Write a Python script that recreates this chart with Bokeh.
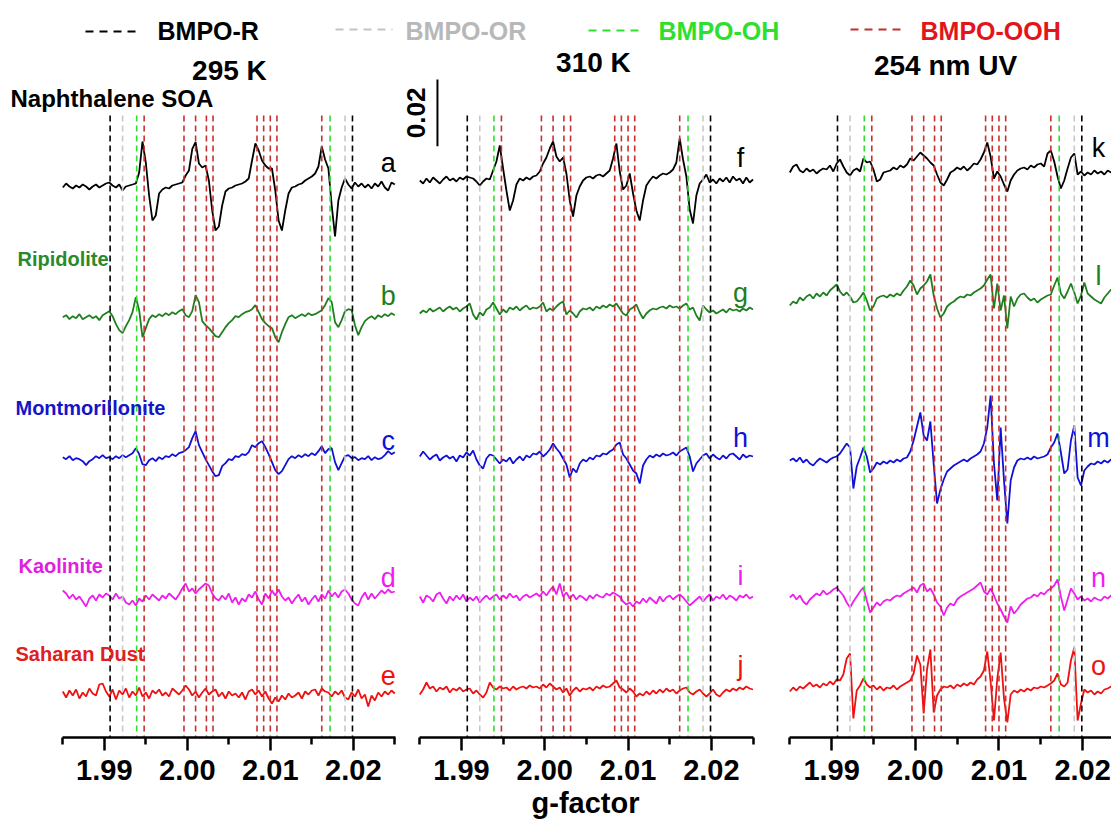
import numpy as np
from bokeh.plotting import figure
from bokeh.models import Range1d, FixedTicker, NumeralTickFormatter
from bokeh.layouts import column, row
from bokeh.embed import file_html
from bokeh.resources import INLINE
from bokeh.core.properties import value

FONT = "Liberation Sans"

# ------------------------------------------------------------------ data
G_MIN, G_MAX = 1.985, 2.025
G_STEP = 0.0004            # sampling step of the spectra (g units)
MAJOR_TICKS = [1.99, 2.00, 2.01, 2.02]
MINOR_TICKS = [1.985, 1.995, 2.005, 2.015, 2.025]

# reference g values of the BMPO adducts
BMPO_R = [1.9907, 2.0199]
BMPO_OR = [1.9922, 2.0190]
BMPO_OH = [1.9939, 2.0172]
BMPO_OOH = [1.9948, 1.9996, 2.0010, 2.0023, 2.0031,
            2.0084, 2.0092, 2.0100, 2.0108, 2.0162]

SAMPLES = ["Naphthalene SOA", "Ripidolite", "Montmorillonite", "Kaolinite", "Saharan Dust"]
CONDITIONS = ["295 K", "310 K", "254 nm UV"]
LETTERS = [["a", "b", "c", "d", "e"], ["f", "g", "h", "i", "j"], ["k", "l", "m", "n", "o"]]
SCALE_BAR = 0.02

# EPR spectra (first derivative), units of 1e-4
soa_295 = [-6, 6, -3, -9, 0, -6, 3, -3, -12, -3,
           3, -6, 0, 6, 9, 0, -6, 3, -15, -3,
           0, 3, 6, 39, 132, 69, -30, -105, -90, -24,
           -12, -6, -9, 0, 3, 6, 9, 30, 45, 110,
           130, 66, 54, 60, 15, -75, -135, -123, -60, -18,
           -9, -6, 0, 3, 6, 12, 21, 75, 126, 105,
           75, 60, 51, 51, -15, -105, -135, -75, -24, -6,
           -3, 3, 6, 15, 21, 27, 36, 57, 117, 78,
           51, -60, -153, -45, -6, 21, 3, -9, 9, -3,
           6, -6, 3, -9, 6, -3, 12, -6, -15, 9, 3]
rip_295 = [0, 6, -6, 3, -3, 9, -6, 0, 6, -3,
           3, -9, 6, 12, 18, 3, -21, -39, -48, -27,
           -9, 15, 60, 21, -60, -33, -6, 6, 0, 9,
           3, 12, 6, 15, 9, 18, 24, 6, 0, 18,
           66, 45, -12, -24, -33, -45, -57, -60, -45, -30,
           -18, -9, 3, 0, 9, 15, 18, 24, 36, 15,
           -6, -18, -27, -33, -60, -75, -45, -21, 0, 6,
           -3, 3, 9, 3, 12, 6, 9, 15, 21, 36,
           57, 45, -15, -30, -9, 18, 24, 21, -24, -54,
           -30, -12, -3, 3, -6, 6, 0, 9, 3, 12, 6]
mont_295 = [0, -6, 3, -9, -3, -6, -12, -24, -12, -6,
            3, -3, 6, -3, 0, -6, 3, -3, 6, 0,
            6, 12, 27, 9, -21, -24, -9, -3, -12, 0,
            -6, 3, 0, 9, 3, 12, 15, 21, 30, 57,
            78, 36, 15, -6, -24, -42, -57, -54, -27, -18,
            -6, -9, 3, 0, 9, 6, 15, 36, 30, 42,
            48, 30, 9, -15, -39, -51, -42, -24, -6, 3,
            -3, 6, 0, 9, 3, 12, 6, 18, 33, 12,
            24, 27, -15, -39, -18, 3, 6, -3, 0, -9,
            -3, -6, 3, -9, 0, -6, -3, 6, 18, 9, 15]
kao_295 = [15, 6, -9, 3, -12, -3, -18, -33, -9, 0,
           -15, 3, -6, 6, 0, -12, 6, -9, -3, -21,
           -27, -15, -30, -9, -18, 0, -12, 3, -6, -15,
           0, -9, 6, -3, -12, 3, 21, 36, 12, 21,
           6, 18, 27, 36, 30, 6, -9, -15, 0, -12,
           6, -21, -6, -27, -9, -18, 3, -6, 12, -12,
           -27, 6, -9, 15, 0, 18, -3, -15, -6, -24,
           -9, 3, -18, -6, -27, -12, 0, -18, 3, -9,
           15, -3, 9, -6, 12, 18, 6, -12, -24, -30,
           -6, 9, -12, 6, -9, 3, 15, 6, 18, 9, 12]
sah_295 = [6, -12, 9, -6, 12, -15, 3, -9, 15, 0,
           -6, 27, 30, 6, -9, 12, -18, 9, -3, 15,
           -12, 6, -6, 18, -9, 3, -15, 9, 0, 12,
           -6, 3, -9, 15, 6, -3, 9, 24, 12, -6,
           6, -12, 3, 15, -3, 6, 12, -9, 3, -15,
           6, -6, 0, -12, 3, -18, 6, 12, -3, 9,
           -9, 6, -15, -30, -12, -24, -6, -18, 0, -12,
           -6, 3, -15, 6, -3, 9, 12, -6, 15, 6,
           3, -9, 6, -3, 9, -12, -18, 3, -9, 12,
           -15, -3, -39, -6, -21, 3, -9, 6, -3, 9, 0]

soa_310 = [0, -9, 6, -6, 9, 0, -9, 3, 12, 0,
           6, -3, 9, 3, 12, 9, 6, -3, -15, -3,
           6, 3, 30, 57, 105, 36, -30, -90, -60, -12,
           6, 0, 9, 3, 12, 15, 27, 51, 69, 96,
           117, 72, 57, 69, 21, -60, -108, -45, -18, 0,
           9, 12, 6, 15, 18, 12, 21, 30, 66, 111,
           27, -27, -15, 21, -39, -90, -120, -60, -15, 0,
           12, 6, 15, 21, 18, 24, 33, 54, 126, 63,
           12, -87, -129, -45, -9, 3, 18, -6, 3, -9,
           6, -3, 9, -6, 12, 0, 6, -9, 9, -6, 3]
rip_310 = [-9, 0, -6, 6, -3, 3, 9, -3, 6, 12,
           3, 9, -3, 6, 12, 21, -12, -27, -6, -15,
           3, 9, 24, 6, -12, 3, -6, 9, 3, 12,
           0, 9, 15, 3, 9, 6, 12, 24, -3, 6,
           0, 12, 21, 27, -12, 0, -9, -21, -3, 6,
           3, 9, 0, 12, 6, 15, 9, 18, 12, 21,
           6, -9, -15, 3, 9, 18, -6, -24, -9, 0,
           6, 3, 9, 12, 6, 15, 9, 12, 6, 15,
           21, 3, 9, -15, -30, 15, 3, -6, 0, -9,
           -3, 3, -6, 6, 0, 3, -3, 6, 0, 9, 3]
mont_310 = [3, 18, 6, -6, 3, 9, -9, 0, 6, -3,
            3, -12, 6, 0, 15, 6, 21, -6, -24, -33,
            -3, 9, 6, -6, -18, -6, -12, 0, -18, -6,
            3, -9, 6, 0, 12, 9, 18, 3, 12, 24,
            42, 27, 15, -3, -21, -60, -33, -45, -18, -6,
            -12, 0, -6, 6, 3, 12, 9, 18, 24, 39,
            45, 9, -3, -21, -39, -48, -78, -24, -6, 6,
            0, 9, 3, 12, 6, 9, 15, 6, 18, 24,
            30, 3, -42, -18, -6, 6, 12, -3, 9, 0,
            -6, 6, -3, 9, 12, 3, -6, 9, 0, 6, 3]
kao_310 = [6, -12, 9, 3, -9, 12, 18, 0, -15, 6,
           -6, 9, -3, 12, -9, 3, -6, 6, -12, 0,
           9, -3, 6, 12, -3, 9, 0, 15, 3, 9,
           -6, 6, 12, 3, 9, 15, 6, 21, 9, 24,
           36, 12, 45, 6, 18, 0, 12, -3, 9, 3,
           -6, 9, 0, 12, 6, 3, 15, 9, 18, 12,
           6, -9, -18, -12, -24, -9, -15, 0, -12, 3,
           -6, -15, 6, -9, 3, 9, -3, 6, 12, 3,
           -9, -21, -12, -3, 6, -9, 3, 12, -6, 6,
           0, 12, -3, 9, 3, -6, 9, 3, 12, 0, 6]
sah_310 = [-12, 3, 24, 6, 12, -3, 9, 3, 12, -6,
           6, 0, 9, -3, 3, 6, -9, 0, -12, -21,
           -6, 24, 9, 3, 12, 6, 9, 0, 12, 3,
           9, 12, 6, 15, 9, 12, 6, 18, 9, 21,
           12, 3, 9, -6, 6, -15, 0, 9, -3, 6,
           3, 9, 0, 12, 6, 15, 9, 12, 21, 30,
           9, 3, -6, 6, -3, -18, -9, -15, -3, -12,
           0, -9, 3, -6, 6, -3, 3, -9, 0, 6,
           9, -6, -12, -3, 3, -9, -18, -9, 3, -12,
           -18, -6, 3, -3, 6, 0, 9, 3, 12, 6, 3]

soa_uv = [-6, 12, 18, 0, -6, 6, -3, 3, -9, 0,
          6, 3, 15, -3, 21, 33, 12, -6, -15, 0,
          6, -3, 36, 24, 27, 3, -33, -27, -6, -3,
          0, 9, 3, 15, 9, 18, 36, 30, 42, 54,
          45, 36, 24, 15, -12, -36, -45, -27, -6, 0,
          9, 3, 12, 0, 9, 21, 18, 33, 54, 84,
          42, -24, -3, -18, -42, -63, -30, -12, 0, 6,
          9, 3, 15, 9, 18, 21, 12, 51, 60, 27,
          -18, -54, -30, 6, 39, 51, -12, -3, -15, -6,
          -12, 0, -9, -3, -12, 0, -6, -9, 3, -6, -3]
rip_uv = [-21, -9, -15, 3, -6, 6, 12, 0, 15, 6,
          18, 9, 24, 33, 42, 21, 9, 18, 6, -12,
          -9, 3, 18, -6, -36, -24, 0, 6, 9, 3,
          12, 6, 15, 9, 24, 36, 54, 39, 12, 30,
          39, 51, 72, 9, -30, -57, -45, -24, -15, -9,
          0, 6, 3, 12, 9, 18, 24, 30, 39, 57,
          72, -30, 45, -36, 9, -90, 6, -24, 0, 12,
          15, 3, -6, 0, -12, -3, 3, 9, 12, 39,
          63, 15, 0, 21, 45, 18, -15, 9, 48, 15,
          6, -3, -9, -15, 3, 15, 27, 6, 12, -3, 6]
mont_uv = [0, 6, -3, 9, -6, 3, -9, -15, -3, 6,
           0, -6, 3, 9, 12, 21, 36, 51, 39, -84,
           -18, 9, 39, 12, -36, -24, -6, -12, -3, -9,
           0, -6, 3, -3, 6, 9, 27, 60, 102, 144,
           75, 60, 117, -12, -129, -87, -57, -33, -24, -15,
           -9, -3, 3, -3, 6, 12, 18, 27, 51, 99,
           195, -9, -120, 99, -60, -189, -60, -21, 0, 6,
           3, 9, 3, 12, 6, 9, 12, 18, 39, 54,
           81, 24, -39, -27, 60, 105, -51, -75, -30, -18,
           -9, -12, -3, -9, 0, -6, 3, -3, 6, 0, -3]
kao_uv = [0, 9, -6, 6, -12, -21, -6, 3, 12, 6,
          21, 9, 15, 24, 30, 18, 6, -15, -30, -12,
          3, 18, 30, -9, -45, -30, -15, -24, -12, -6,
          -9, 0, 6, 3, 12, 18, 24, 30, 15, 36,
          42, 18, 27, 9, -15, -27, -54, -30, -18, -24,
          -6, 3, 9, 15, 21, 27, 36, 45, 18, 9,
          27, 6, -18, -36, -57, -75, -27, -48, -36, -21,
          -12, -3, 0, 9, 3, 15, 9, 21, 27, 36,
          54, 3, -39, -6, 27, 12, -6, 3, -9, -3,
          -12, 0, -6, -9, 3, -3, 6, 12, 3, 9, 0]
sah_uv = [-9, 3, -6, 6, 0, 9, 18, 6, 12, 3,
          15, 9, 21, 12, 27, 24, 42, 90, 105, -90,
          -6, 9, 30, 12, 3, 9, -3, 6, -6, 3,
          0, 9, -3, 6, 12, 18, 24, 45, 99, 72,
          -75, 57, 117, -72, -21, -3, 6, 3, 9, 0,
          12, 6, 15, 9, 18, 12, 27, 36, 54, 111,
          21, -96, 30, 108, -30, -102, -18, -6, -12, -3,
          -9, 0, -6, 3, 0, 6, 3, 9, 15, 24,
          45, 12, 6, 18, 84, 123, -96, -45, -3, -12,
          -6, -18, -9, -15, -3, 0, 6, -3, 9, 3, -6]

SPECTRA = [
    [soa_295, rip_295, mont_295, kao_295, sah_295],
    [soa_310, rip_310, mont_310, kao_310, sah_310],
    [soa_uv, rip_uv, mont_uv, kao_uv, sah_uv],
]

# ------------------------------------------------------------------ styling / layout
UNIT = 1e-4                       # spectra are stored in 1e-4
TRACE_COLORS = ["#000000", "#1F7F1F", "#1010D8", "#EE1EEE", "#F01010"]
NAME_COLORS = ["#000000", "#2A8A2A", "#1515C8", "#E020E0", "#E02020"]
# vertical stacking offsets (units of 1e-4) per panel / sample
OFFSETS = [
    [0, -395, -815, -1230, -1524],
    [15, -375, -816, -1239, -1515],
    [45, -339, -825, -1236, -1509],
]
LETTER_Y = [
    [69, -330, -765, -1176, -1470],
    [84, -321, -756, -1170, -1440],
    [114, -270, -756, -1176, -1440],
]
LETTER_X = [2.0242, 2.0235, 2.0219]
NAME_X = [1.9787, 1.97954, 1.9793, 1.97966, 1.9793]
NAME_Y = [261, -219, -666, -1140, -1404]
NAME_SIZE = ["24px", "20px", "20px", "20px", "20px"]
TITLE_POS = [(2.00508, 345), (2.00585, 369), (2.00361, 360)]

LEG_H = 46
Y_TOP, Y_BOT = 417, -1656
LINE_TOP = 210
FRAME_H = 691
BOTTOM_BORDER = 80
# (frame width px, px of frame left edge, px where g=1.985 sits, px per unit g)
PANEL_GEOM = [(399, 0.0, 62.3, 8300.0), (372, 399.0, 419.3, 8330.0), (340, 771.0, 789.3, 8367.0)]

REF_LINES = [(BMPO_R, "#000000"), (BMPO_OR, "#C8C8C8"), (BMPO_OH, "#30DD30"), (BMPO_OOH, "#C8302F")]

g = G_MIN + G_STEP * np.arange(len(soa_295))


def make_panel(k):
    fw, left_px, start_px, ppg = PANEL_GEOM[k]
    x0 = G_MIN - (start_px - left_px) / ppg
    x1 = x0 + fw / ppg
    p = figure(frame_width=fw, frame_height=FRAME_H,
               x_range=Range1d(x0, x1), y_range=Range1d(Y_BOT, Y_TOP),
               output_backend="svg", toolbar_location=None,
               y_axis_location=None, min_border_left=0, min_border_right=0,
               min_border_top=0, min_border_bottom=BOTTOM_BORDER)
    p.outline_line_color = None
    p.grid.visible = False
    p.background_fill_color = "white"
    p.border_fill_color = "white"

    for j, (vals, col) in enumerate(zip(SPECTRA[k], TRACE_COLORS)):
        y = np.array(vals, dtype=float) + OFFSETS[k][j]
        p.line(g, y, line_color=col, line_width=1.8)
        p.text(x=[LETTER_X[k]], y=[LETTER_Y[k][j]], text=[LETTERS[k][j]],
               text_color=col, text_font=value(FONT), text_font_size="27px",
               text_align="center", text_baseline="middle")

    for pos, col in REF_LINES:
        p.segment(x0=pos, x1=pos, y0=[LINE_TOP] * len(pos), y1=[Y_BOT] * len(pos),
                  line_color=col, line_width=1.6, line_dash="6 4")

    tx, ty = TITLE_POS[k]
    p.text(x=[tx], y=[ty], text=[CONDITIONS[k]], text_font=value(FONT),
           text_font_style="bold", text_font_size="28px", text_color="black",
           text_align="center", text_baseline="middle")

    ax = p.xaxis[0]
    ax.ticker = FixedTicker(ticks=MAJOR_TICKS, minor_ticks=MINOR_TICKS)
    ax.formatter = NumeralTickFormatter(format="0.00")
    ax.bounds = (G_MIN - 0.00005, G_MAX + 0.00005)
    ax.axis_line_width = 2.5
    ax.axis_line_color = "black"
    ax.major_tick_line_width = 2.5
    ax.minor_tick_line_width = 2.5
    ax.major_tick_line_color = "black"
    ax.minor_tick_line_color = "black"
    ax.major_tick_out = 13
    ax.major_tick_in = 0
    ax.minor_tick_out = 7
    ax.minor_tick_in = 0
    ax.major_label_text_font = FONT
    ax.major_label_text_font_style = "bold"
    ax.major_label_text_font_size = "29px"
    ax.major_label_text_color = "black"
    ax.major_label_standoff = 9
    return p


panels = [make_panel(k) for k in range(3)]

# sample names (left panel)
p1 = panels[0]
for name, col, nx, ny, fs in zip(SAMPLES, NAME_COLORS, NAME_X, NAME_Y, NAME_SIZE):
    p1.text(x=[nx], y=[ny], text=[name], text_color=col, text_font=value(FONT),
            text_font_style="bold", text_font_size=fs,
            text_align="left", text_baseline="middle")

# scale bar (middle panel)
p2 = panels[1]
sb_x = 1.98712
sb_top = 318
p2.segment(x0=[sb_x], x1=[sb_x], y0=[sb_top], y1=[sb_top - SCALE_BAR / UNIT],
           line_color="black", line_width=2)
p2.text(x=[1.98455], y=[sb_top - SCALE_BAR / UNIT / 2], text=["%.2f" % SCALE_BAR],
        angle=np.pi / 2, text_font=value(FONT), text_font_style="bold",
        text_font_size="26px", text_color="black",
        text_align="center", text_baseline="middle")
p2.xaxis[0].axis_label = "g-factor"
p2.xaxis[0].axis_label_text_font = FONT
p2.xaxis[0].axis_label_text_font_style = "bold"
p2.xaxis[0].axis_label_text_font_size = "29px"
p2.xaxis[0].axis_label_text_color = "black"
p2.xaxis[0].axis_label_standoff = 4

# top legend strip (pixel coordinates of the picture)
TOTAL_W = sum(pg[0] for pg in PANEL_GEOM)
leg = figure(frame_width=TOTAL_W, frame_height=LEG_H, x_range=Range1d(0, TOTAL_W),
             y_range=Range1d(LEG_H, 0), output_backend="svg", toolbar_location=None,
             x_axis_location=None, y_axis_location=None,
             min_border_left=0, min_border_right=0, min_border_top=0, min_border_bottom=0)
leg.outline_line_color = None
leg.grid.visible = False
LEG_LABELS = ["BMPO-R", "BMPO-OR", "BMPO-OH", "BMPO-OOH"]
LEG_LINE_COLORS = ["#000000", "#C4C4C4", "#2EE02E", "#C0302F"]
LEG_TEXT_COLORS = ["#000000", "#B8B8B8", "#2EE02E", "#E3151B"]
LEG_SEG = [(85, 140, 31), (335, 392, 29), (588, 643, 30), (850, 905, 29)]
LEG_TXT = [157, 405, 658, 920]
for lab, lc, tc, (sx0, sx1, sy), tx in zip(LEG_LABELS, LEG_LINE_COLORS, LEG_TEXT_COLORS, LEG_SEG, LEG_TXT):
    leg.segment(x0=[sx0], x1=[sx1], y0=[sy], y1=[sy], line_color=lc, line_width=2, line_dash="8 6")
    leg.text(x=[tx], y=[30], text=[lab], text_color=tc, text_font=value(FONT),
             text_font_style="bold", text_font_size="25px",
             text_align="left", text_baseline="middle")

layout = column(leg, row(*panels, spacing=0), spacing=0)
open("out.html", "w").write(file_html(layout, INLINE))
